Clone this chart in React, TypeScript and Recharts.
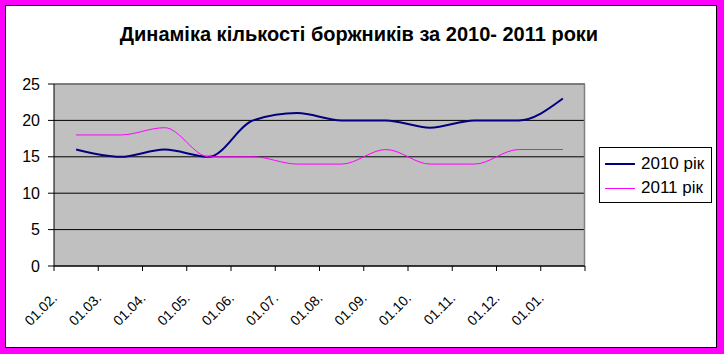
import { LineChart, Line, XAxis, YAxis, CartesianGrid, Legend } from 'recharts';

// debtors count per month, Feb 2010/2011 .. Jan next year
const months = ['01.02.', '01.03.', '01.04.', '01.05.', '01.06.', '01.07.', '01.08.', '01.09.', '01.10.', '01.11.', '01.12.', '01.01.'];
const debtors2010 = [16, 15, 16, 15, 20, 21, 20, 20, 19, 20, 20, 23];
const debtors2011 = [18, 18, 19, 15, 15, 14, 14, 16, 14, 14, 16, 16];
const yTicks = [0, 5, 10, 15, 20, 25];
const seriesNames = ['2010 рік', '2011 рік'];

const data = months.map((m, i) => ({ month: m, y2010: debtors2010[i], y2011: debtors2011[i] }));

const FONT = '"Liberation Sans", Arial, sans-serif';
const BAND = 531 / 12;

function MonthTick({ x, y, payload, index }: any) {
  const ax = x - 18;
  const ay = y + 33;
  return (
    <g>
      <line x1={x - BAND / 2} y1={y} x2={x - BAND / 2} y2={y + 5} stroke="#000" />
      {index === months.length - 1 && (
        <line x1={x + BAND / 2} y1={y} x2={x + BAND / 2} y2={y + 5} stroke="#000" />
      )}
      <text x={ax} y={ay} transform={`rotate(-45 ${ax} ${ay})`} textAnchor="end" fontSize={14} fontFamily={FONT} fill="#000">
        {payload.value}
      </text>
    </g>
  );
}

function LegendBox({ payload }: any) {
  return (
    <div style={{ width: 113, height: 56, boxSizing: 'border-box', border: '1px solid #000', background: '#fff', paddingTop: 4 }}>
      {payload.map((p: any) => (
        <div key={p.value} style={{ display: 'flex', alignItems: 'center', height: 24, fontFamily: FONT, fontSize: 17, color: '#000' }}>
          <div style={{ width: 30, height: p.payload.strokeWidth, background: p.color, marginLeft: 5, marginRight: 6 }} />
          {p.value}
        </div>
      ))}
    </div>
  );
}

export default function App() {
  return (
    <div style={{ position: 'absolute', left: 0, top: 0, width: 724, height: 354, background: '#ff00ff' }}>
      <div style={{ position: 'absolute', left: 5, top: 5, width: 712, height: 343, boxSizing: 'border-box', border: '1px solid #000', background: '#fff' }} />
      <div style={{ position: 'absolute', left: 0, top: 24, width: 718, textAlign: 'center', fontFamily: FONT, fontWeight: 'bold', fontSize: 20, lineHeight: '20px', color: '#000' }}>
        Динаміка кількості боржників за 2010- 2011 роки
      </div>
      <div style={{ position: 'absolute', left: 0, top: 0 }}>
        <LineChart width={724} height={354} data={data} margin={{ top: 84, right: 139, bottom: 58, left: 0 }}>
          <CartesianGrid vertical={false} stroke="#000" fill="#c0c0c0" />
          {/* grey plot-area border, top and right */}
          <CartesianGrid horizontalPoints={[84]} verticalPoints={[584.5]} stroke="#808080" strokeWidth={1.5} />
          <XAxis dataKey="month" interval={0} height={30} padding={{ left: BAND / 2, right: BAND / 2 }} tickSize={0} tickMargin={0} tickLine={false} axisLine={{ stroke: '#000' }} tick={<MonthTick />} />
          <YAxis domain={[0, 25]} ticks={yTicks} width={54} tickSize={6} tickMargin={8} axisLine={{ stroke: '#000' }} tickLine={{ stroke: '#000' }} tick={{ fontSize: 16, fontFamily: FONT, fill: '#000' }} />
          <Legend layout="vertical" align="center" verticalAlign="middle" content={<LegendBox />} wrapperStyle={{ left: 599, top: 147, width: 113, height: 56 }} />
          <Line type="monotone" dataKey="y2010" name={seriesNames[0]} stroke="#000080" strokeWidth={2} dot={false} isAnimationActive={false} />
          <Line type="monotone" dataKey="y2011" name={seriesNames[1]} stroke="#ff00ff" strokeWidth={1} dot={false} isAnimationActive={false} />
        </LineChart>
      </div>
    </div>
  );
}
